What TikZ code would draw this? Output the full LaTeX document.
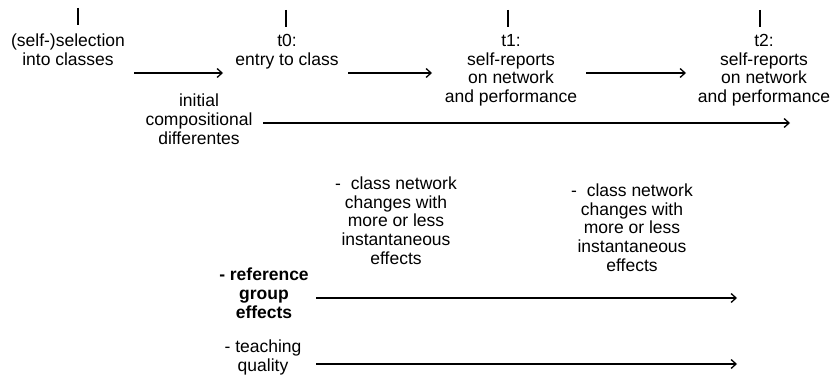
\documentclass[tikz,border=0pt]{standalone}
\usepackage{fontspec}
\newfontfamily\lbfont{Liberation Sans}
\usetikzlibrary{arrows.meta}
\begin{document}
\begin{tikzpicture}[x=1pt,y=-1pt,
  lbl/.style={align=center, inner sep=0pt, font=\lbfont\fontsize{17.5}{18.8}\selectfont},
  arr/.style={-{Straight Barb[length=5pt,width=9pt,line width=1.3pt]}, line width=1.4pt},
  tickmark/.style={line width=2.3pt}]
\useasboundingbox (0,0) rectangle (834,385);
% ticks
\coordinate (k0a) at (78,8);   \coordinate (k0b) at (78,25);
\coordinate (k1a) at (286,10); \coordinate (k1b) at (286,27);
\coordinate (k2a) at (508,10); \coordinate (k2b) at (508,27);
\coordinate (k3a) at (760,10); \coordinate (k3b) at (760,27);
\draw[tickmark] (k0a) -- (k0b);
\draw[tickmark] (k1a) -- (k1b);
\draw[tickmark] (k2a) -- (k2b);
\draw[tickmark] (k3a) -- (k3b);
% labels
\node[lbl] (sel) at (68,49.5) {(self-)selection\\into classes};
\node[lbl] (t0) at (287,51.5) {t0:\\entry to class};
\node[lbl] (t1) at (511,70.2) {t1:\\self-reports\\on network\\and performance};
\node[lbl] (t2) at (764,70.2) {t2:\\self-reports\\on network\\and performance};
\node[lbl] (init) at (199,119) {initial\\compositional\\differentes};
\node[lbl] (cn1) at (396,220.6) {-\ \ class network\\changes with\\more or less\\instantaneous\\effects};
\node[lbl] (cn2) at (632,227.6) {-\ \ class network\\changes with\\more or less\\instantaneous\\effects};
\node[lbl,font=\lbfont\bfseries\fontsize{17.5}{18.8}\selectfont] (ref) at (264,293) {- reference\\group\\effects};
\node[lbl] (teach) at (263,357.5) {- teaching\\quality};
% arrows
\coordinate (a1s) at (134,73); \coordinate (a1e) at (223,73);
\coordinate (a2s) at (348,73); \coordinate (a2e) at (432,73);
\coordinate (a3s) at (586,73); \coordinate (a3e) at (686,73);
\coordinate (a4s) at (263,123); \coordinate (a4e) at (790,123);
\coordinate (a5s) at (316,298); \coordinate (a5e) at (737,298);
\coordinate (a6s) at (316,364); \coordinate (a6e) at (737,364);
\draw[arr] (a1s) -- (a1e);
\draw[arr] (a2s) -- (a2e);
\draw[arr] (a3s) -- (a3e);
\draw[arr] (a4s) -- (a4e);
\draw[arr] (a5s) -- (a5e);
\draw[arr] (a6s) -- (a6e);
\end{tikzpicture}
\end{document}
